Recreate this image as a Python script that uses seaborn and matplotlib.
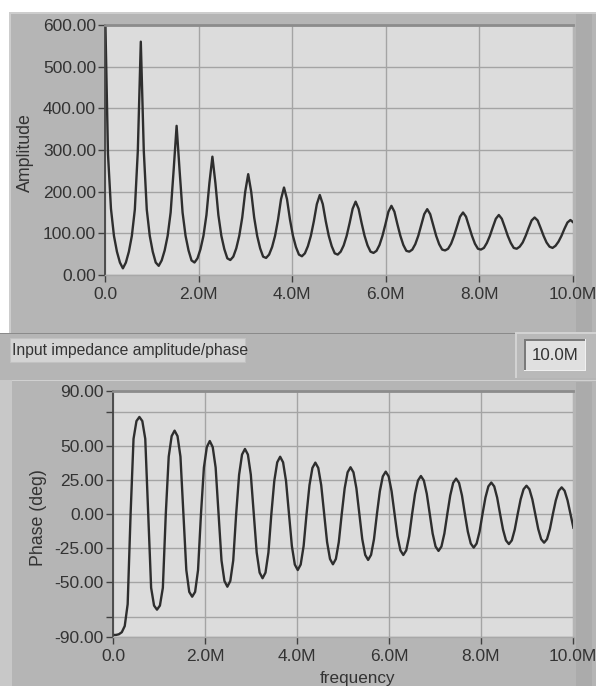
import numpy as np
import pandas as pd
import matplotlib
matplotlib.use("Agg")
import matplotlib.pyplot as plt
from matplotlib.patches import Rectangle
import seaborn as sns

plt.rcParams['font.family'] = ['Liberation Sans', 'DejaVu Sans']

# ---------------- data ----------------
# samples are taken every 1/12 of the resonance period (0.06375 MHz)
freq_step_mhz = 0.06375

amplitude = [
    650, 290, 159, 94, 56, 30,
    16,
    30, 56, 94, 157, 298, 560, 298, 157, 94, 56, 30,
    22,
    35, 59, 94, 150, 251, 358, 251, 150, 94, 59, 35,
    30,
    40, 62, 94, 144, 221, 284, 221, 144, 94, 62, 40,
    36,
    44, 64, 94, 138, 200, 242, 200, 138, 94, 64, 44,
    41,
    49, 67, 94, 133, 182, 210, 182, 133, 94, 67, 49,
    45,
    52, 69, 94, 129, 170, 192, 170, 129, 94, 69, 52,
    49,
    56, 71, 94, 125, 159, 176, 159, 125, 94, 71, 56,
    53,
    58, 72, 94, 122, 152, 166, 152, 122, 94, 72, 58,
    56,
    61, 74, 94, 120, 146, 158, 146, 120, 94, 74, 61,
    59,
    63, 75, 94, 117, 140, 150, 140, 117, 94, 75, 63,
    61,
    65, 77, 94, 115, 135, 144, 135, 115, 94, 77, 65,
    63,
    68, 78, 94, 113, 131, 138, 131, 113, 94, 78, 68,
    65,
    70, 80, 94, 111, 126, 132, 126,
]

phase_deg = [
    -88.5, -88.5, -88, -86.5, -82, -66,
    0,
    55, 68, 71, 68, 55, 0, -54, -67, -70, -67, -54,
    0,
    42, 57, 61, 57, 42, 0, -41, -57, -60.5, -57, -41,
    0,
    34, 49, 53.4, 49, 34, 0, -34, -49, -53.2, -49, -34,
    0,
    28.7, 43.5, 47.6, 43.5, 28.7, 0, -28.2, -42.9, -47, -42.9, -28.2,
    0,
    24.2, 37.8, 41.9, 37.8, 24.2, 0, -23.5, -37, -41, -37, -23.5,
    0,
    21.1, 33.7, 37.6, 33.7, 21.1, 0, -20.5, -32.9, -36.8, -32.9, -20.5,
    0,
    18.8, 30.5, 34.2, 30.5, 18.8, 0, -18.4, -29.9, -33.6, -29.9, -18.4,
    0,
    16.7, 27.5, 31, 27.5, 16.7, 0, -16.1, -26.6, -30, -26.6, -16.1,
    0,
    14.8, 24.5, 27.8, 24.5, 14.8, 0, -14.3, -23.8, -27, -23.8, -14.3,
    0,
    13.6, 22.8, 25.9, 22.8, 13.6, 0, -12.9, -21.6, -24.6, -21.6, -12.9,
    0,
    12, 20.2, 23, 20.2, 12, 0, -11.4, -19.3, -22, -19.3, -11.4,
    0,
    10.7, 18.1, 20.7, 18.1, 10.7, 0, -10.9, -18.4, -21, -18.4, -10.9,
    0,
    10, 17, 19.5, 17, 10, 0, -10,
]

x_ticks = [0, 2, 4, 6, 8, 10]
x_tick_labels = ['0.0', '2.0M', '4.0M', '6.0M', '8.0M', '10.0M']
amp_ticks = [0, 100, 200, 300, 400, 500, 600]
amp_tick_labels = ['0.00', '100.00', '200.00', '300.00', '400.00', '500.00', '600.00']
phase_ticks = [-90, -75, -50, -25, 0, 25, 50, 75, 90]
phase_tick_labels = ['-90.00', '', '-50.00', '-25.00', '0.00', '25.00', '50.00', '', '90.00']

panel_title = 'Input impedance amplitude/phase'
range_box_text = '10.0M'

freq = np.arange(len(amplitude)) * freq_step_mhz
df_amp = pd.DataFrame({'frequency': freq, 'amplitude': amplitude})
df_phase = pd.DataFrame({'frequency': np.arange(len(phase_deg)) * freq_step_mhz,
                         'phase': phase_deg})

# ---------------- figure / layout ----------------
W, H = 596, 686
fig = plt.figure(figsize=(W / 100, H / 100), dpi=100)
fig.patch.set_facecolor('white')

PANEL = '#b5b5b5'
PLOT_BG = '#dcdcdc'
GRID = '#a4a4a4'
LINE = '#2e2e2e'
TXT = '#333333'


def rect(x0, y0, x1, y1, fc, ec='none', lw=0, z=-5):
    fig.add_artist(Rectangle((x0 / W, 1 - y1 / H), (x1 - x0) / W, (y1 - y0) / H,
                             transform=fig.transFigure, facecolor=fc,
                             edgecolor=ec, linewidth=lw, zorder=z))


# top panel
rect(9, 12, 596, 333, PANEL)
rect(9, 12, 596, 14, '#cdcdcd', z=-4)
rect(9, 12, 10.5, 333, '#cdcdcd', z=-4)
rect(576, 14, 592, 333, '#ababab', z=-4)
# middle strip
rect(0, 333, 596, 380, PANEL)
rect(0, 332.5, 596, 334, '#8a8a8a', z=-4)
# bottom panel
rect(12, 380, 596, 686, PANEL)
rect(0, 380, 12, 686, '#c8c8c8')
rect(12, 379.5, 596, 381, '#d0d0d0', z=-4)
rect(576, 382, 592, 686, '#ababab', z=-4)

# title box
rect(10, 338, 245, 362, '#d4d4d4', ec='#c2c2c2', lw=0.8, z=-3)
fig.text(12 / W, 1 - 350 / H, panel_title, ha='left', va='center',
         fontsize=11.3, color=TXT)

# range box
rect(515, 332, 596, 378, '#b9b9b9', z=-3)
rect(515, 332, 596, 333.5, '#d2d2d2', z=-2)
rect(515, 332, 516.5, 378, '#d2d2d2', z=-2)
rect(524, 339, 586, 371, '#e0e0e0', z=-2)
rect(524, 339, 586, 340.5, '#7a7a7a', z=-1)
rect(524, 339, 525.5, 371, '#7a7a7a', z=-1)
rect(524, 369.5, 586, 371, '#f0f0f0', z=-1)
rect(584.5, 339, 586, 371, '#f0f0f0', z=-1)
fig.text(555 / W, 1 - 355 / H, range_box_text, ha='center', va='center',
         fontsize=12.2, color=TXT)


def style_axes(ax, yticks, ylabels, ylim):
    ax.set_facecolor(PLOT_BG)
    ax.set_xlim(0, 10)
    ax.set_ylim(*ylim)
    ax.set_xticks(x_ticks)
    ax.set_xticklabels(x_tick_labels)
    ax.set_yticks(yticks)
    ax.set_yticklabels(ylabels)
    ax.grid(True, color=GRID, linewidth=1.0)
    ax.set_axisbelow(True)
    ax.tick_params(axis='both', direction='out', length=5, width=1,
                   color='#404040', labelcolor=TXT, labelsize=12.5)
    ax.tick_params(axis='y', pad=1.5)
    ax.tick_params(axis='x', pad=3.5)
    ax.spines['left'].set_color('#454545')
    ax.spines['left'].set_linewidth(1.3)
    ax.spines['top'].set_color('#8c8c8c')
    ax.spines['top'].set_linewidth(2)
    ax.spines['right'].set_visible(False)
    ax.spines['bottom'].set_color('#a8a8a8')
    ax.spines['bottom'].set_linewidth(1)


# amplitude axes
ax1 = fig.add_axes([105 / W, 1 - 275 / H, 468 / W, 250 / H])
sns.lineplot(data=df_amp, x='frequency', y='amplitude', ax=ax1, color=LINE,
             linewidth=1.7, estimator=None, sort=False)
style_axes(ax1, amp_ticks, amp_tick_labels, (0, 600))
ax1.set_xlabel('')
ax1.set_ylabel('Amplitude', fontsize=12.8, color=TXT)
ax1.yaxis.set_label_coords((33.5 - 105) / 468, 0.49)

# phase axes
ax2 = fig.add_axes([113 / W, 1 - 637 / H, 460 / W, 246 / H])
sns.lineplot(data=df_phase, x='frequency', y='phase', ax=ax2, color=LINE,
             linewidth=1.7, estimator=None, sort=False)
style_axes(ax2, phase_ticks, phase_tick_labels, (-90, 90))
ax2.set_xlabel('frequency', fontsize=12.3, color=TXT)
ax2.xaxis.set_label_coords((358 - 113) / 460, (637 - 671.5) / 246)
ax2.set_ylabel('Phase (deg)', fontsize=12.8, color=TXT)
ax2.yaxis.set_label_coords((47 - 113) / 460, 0.485)

fig.savefig('out.png', dpi=100, facecolor=fig.get_facecolor())
